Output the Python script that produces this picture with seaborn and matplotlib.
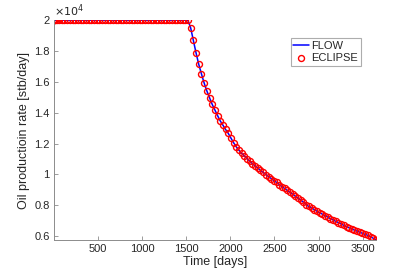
import matplotlib
matplotlib.use('Agg')
import matplotlib.pyplot as plt
from matplotlib.ticker import FuncFormatter
import seaborn as sns

# report times [days] (a few early steps, then month ends)
time_days = [1, 4, 8, 15,
             31, 59, 90, 120, 151, 181, 212, 243, 273, 304, 334, 365,
             396, 424, 455, 485, 516, 546, 577, 608, 638, 669, 699, 730,
             761, 789, 820, 850, 881, 911, 942, 973, 1003, 1034, 1064, 1095,
             1126, 1154, 1185, 1215, 1246, 1276, 1307, 1338, 1368, 1399, 1429, 1460,
             1491, 1519, 1550, 1580, 1611, 1641, 1672, 1703, 1733, 1764, 1794, 1825,
             1856, 1884, 1915, 1945, 1976, 2006, 2037, 2068, 2098, 2129, 2159, 2190,
             2221, 2249, 2280, 2310, 2341, 2371, 2402, 2433, 2463, 2494, 2524, 2555,
             2586, 2614, 2645, 2675, 2706, 2736, 2767, 2798, 2828, 2859, 2889, 2920,
             2951, 2979, 3010, 3040, 3071, 3101, 3132, 3163, 3193, 3224, 3254, 3285,
             3316, 3344, 3375, 3405, 3436, 3466, 3497, 3528, 3558, 3589, 3619, 3650]

# ECLIPSE oil rate [stb/day]
eclipse_rate = [20000, 20000, 20000, 20000,
                20000, 20000, 20000, 20000, 20000, 20000, 20000, 20000, 20000, 20000, 20000, 20000,
                20000, 20000, 20000, 20000, 20000, 20000, 20000, 20000, 20000, 20000, 20000, 20000,
                20000, 20000, 20000, 20000, 20000, 20000, 20000, 20000, 20000, 20000, 20000, 20000,
                20000, 20000, 20000, 20000, 20000, 20000, 20000, 20000, 20000, 20000, 20000, 20000,
                20000, 20000, 19500, 18700, 17880, 17150, 16520, 15920, 15420, 14970, 14540, 14170,
                13800, 13480, 13200, 12920, 12660, 12360, 12050, 11780, 11560, 11360, 11200, 11020,
                10850, 10700, 10560, 10420, 10260, 10130, 9990, 9860, 9730, 9600, 9480, 9340,
                9210, 9090, 8960, 8840, 8720, 8590, 8460, 8330, 8200, 8030, 7920, 7820,
                7720, 7620, 7520, 7430, 7330, 7240, 7140, 7050, 6960, 6880, 6790, 6700,
                6610, 6540, 6460, 6390, 6320, 6250, 6180, 6110, 6050, 5960, 5860, 5760]

# FLOW oil rate [stb/day] - lies on top of the ECLIPSE results
flow_rate = list(eclipse_rate)

x_ticks = [500, 1000, 1500, 2000, 2500, 3000, 3500]
y_ticks = [6000, 8000, 10000, 12000, 14000, 16000, 18000, 20000]

sns.set_style('white')
plt.rcParams['font.family'] = ['Liberation Sans', 'DejaVu Sans']

fig = plt.figure(figsize=(4.15, 2.76), dpi=100)
ax = fig.add_axes([0.130, 0.130, 0.776, 0.797])

sns.lineplot(x=time_days, y=flow_rate, ax=ax, color='#0000ff', linewidth=1.1,
             label='FLOW')
sns.lineplot(x=time_days, y=eclipse_rate, ax=ax, linestyle='', marker='o',
             markersize=4.3, markerfacecolor='none', markeredgecolor='#ff0000',
             markeredgewidth=1.0, color='#ff0000', label='ECLIPSE')

ax.set_xlim(1, 3650)
ax.set_ylim(5740, 20000)
ax.set_xticks(x_ticks)
ax.set_yticks(y_ticks)
ax.yaxis.set_major_formatter(FuncFormatter(lambda v, p: f'{v / 1e4:g}'))
ax.text(0.0, 1.005, r'$\times10^{4}$', transform=ax.transAxes, fontsize=8,
        color='#262626', ha='left', va='bottom')

for s in ['top', 'right']:
    ax.spines[s].set_visible(False)
for s in ['left', 'bottom']:
    ax.spines[s].set_color('#8c8c8c')
    ax.spines[s].set_linewidth(0.7)
ax.tick_params(direction='in', length=3, width=0.6, color='#8c8c8c',
               labelsize=8, labelcolor='#262626', pad=3)
ax.tick_params(axis='x', bottom=True)
ax.tick_params(axis='y', left=True)

ax.set_xlabel('Time [days]', fontsize=9, color='#262626', labelpad=1)
ax.set_ylabel('Oil productioin rate [stb/day]', fontsize=9, color='#262626', labelpad=3)

leg = ax.legend(loc='upper left', bbox_to_anchor=(0.735, 0.917), fontsize=8,
                frameon=True, fancybox=False, handlelength=1.4, handletextpad=0.2,
                borderpad=0.25, labelspacing=0.2, borderaxespad=0)
leg.get_frame().set_edgecolor('#999999')
leg.get_frame().set_linewidth(0.8)

fig.savefig('out.png', dpi=100)
